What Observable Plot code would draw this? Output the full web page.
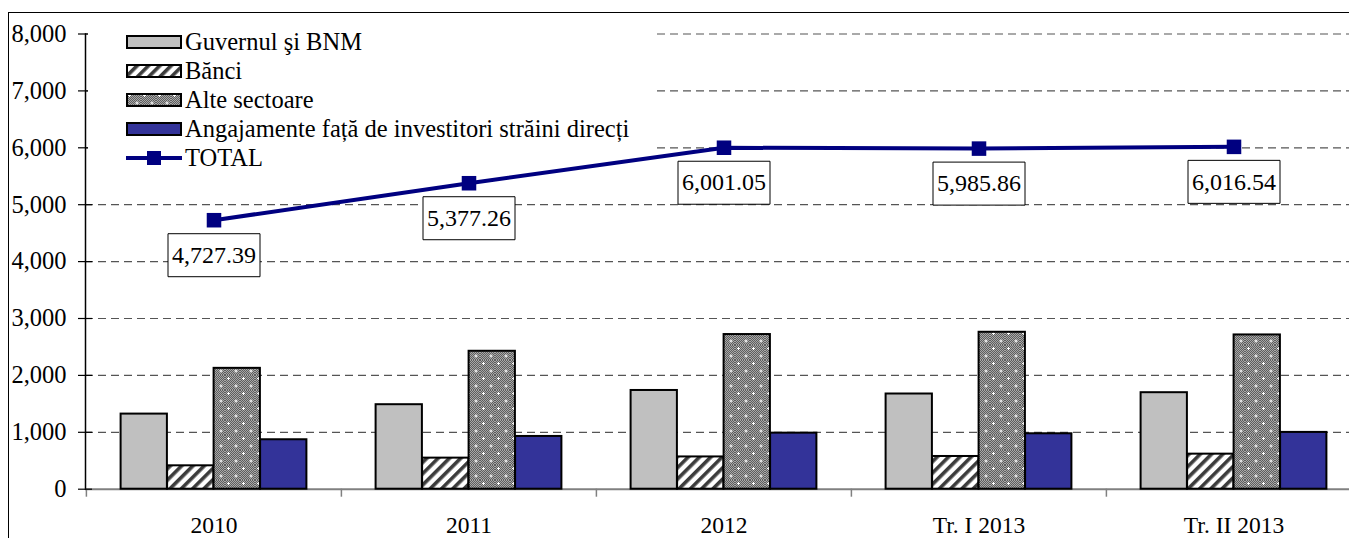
<!DOCTYPE html>
<html>
<head>
<meta charset="utf-8">
<script src="https://cdn.jsdelivr.net/npm/d3@7"></script>
<script src="https://cdn.jsdelivr.net/npm/@observablehq/plot@0.6"></script>
<style>
  html, body { margin: 0; padding: 0; background: #fff; overflow: hidden; }
  #wrap { position: relative; width: 1349px; height: 538px; overflow: hidden; font-family: "Liberation Serif", "Times New Roman", serif; }
  #frame { position: absolute; left: 8px; top: 12px; width: 1500px; height: 700px; border-left: 1.5px solid #000; border-top: 1.5px solid #000; box-sizing: border-box; }
  #chart { position: absolute; left: 0; top: 0; }
  #legend { position: absolute; left: 88px; top: 22px; width: 565px; height: 131px; background: #fff; }
  .row { position: absolute; left: 0; height: 28px; display: flex; align-items: center; white-space: nowrap; font-family: "Liberation Serif", serif; font-size: 24.5px; color: #000; }
  .row svg { margin-left: 38px; margin-right: 3px; overflow: visible; }
</style>
</head>
<body>
<svg width="0" height="0" style="position:absolute">
  <defs>
    <pattern id="hatch" patternUnits="userSpaceOnUse" width="8" height="8" patternTransform="rotate(45)">
      <rect width="8" height="8" fill="#fff"></rect>
      <rect x="0" y="0" width="3.6" height="8" fill="#3c3c3c"></rect>
    </pattern>
    <pattern id="checker" patternUnits="userSpaceOnUse" width="2" height="2">
      <rect width="2" height="2" fill="#a8a8a8"></rect>
      <rect x="0" y="0" width="1" height="1" fill="#5e5e5e"></rect>
      <rect x="1" y="1" width="1" height="1" fill="#5e5e5e"></rect>
    </pattern>
    <pattern id="dots" patternUnits="userSpaceOnUse" width="15" height="15">
      <rect width="15" height="15" fill="url(#checker)"></rect>
      <rect x="2" y="3" width="3" height="1" fill="#fff"></rect>
      <rect x="3" y="2" width="1" height="3" fill="#fff"></rect>
      <rect x="9.5" y="10.5" width="3" height="1" fill="#fff"></rect>
      <rect x="10.5" y="9.5" width="1" height="3" fill="#fff"></rect>
    </pattern>
  </defs>
</svg>
<div id="wrap">
  <div id="frame"></div>
  <div id="chart"></div>
  <div id="legend"></div>
</div>
<script>
// ---- data ----
const categories = ["2010", "2011", "2012", "Tr. I 2013", "Tr. II 2013"];
const guvernul = [1320, 1485, 1735, 1673, 1696];
const banci = [411, 546, 567, 575, 616];
const alteSectoare = [2124, 2424, 2718, 2758, 2711];
const angajamente = [869, 927, 985, 974, 998];
const total = [4727.39, 5377.26, 6001.05, 5985.86, 6016.54];
const seriesNames = ["Guvernul şi BNM", "Bănci", "Alte sectoare", "Angajamente față de investitori străini direcți", "TOTAL"];
const yTicks = [0, 1000, 2000, 3000, 4000, 5000, 6000, 7000, 8000];

// ---- styles ----
const fills = ["#c0c0c0", "url(#hatch)", "url(#dots)", "#333399"];
const lineColor = "#000080";
const seriesValues = [guvernul, banci, alteSectoare, angajamente];

const W = 1362, H = 538, mL = 85, mR = 1, mT = 33.5, mB = 49.3;
const step = (W - mL - mR) / categories.length;
const barW = 46.5;
const groupOffset = (step - barW * seriesValues.length) / 2;

const idx = d3.range(categories.length);

const barMarks = seriesValues.map((vals, i) =>
  Plot.barY(idx, {
    x: (j) => categories[j],
    y: (j) => vals[j],
    fill: fills[i],
    stroke: "#000",
    strokeWidth: 2,
    insetLeft: groupOffset + i * barW,
    insetRight: step - groupOffset - (i + 1) * barW
  })
);

const boxSymbol = { draw(ctx) { ctx.rect(-46, -21.5, 92, 43); } };

const chart = Plot.plot({
  width: W, height: H,
  marginLeft: mL, marginRight: mR, marginTop: mT, marginBottom: mB,
  style: { fontFamily: "Liberation Serif", fontSize: "23px", background: "transparent", maxWidth: "none", color: "#000" },
  x: { type: "band", domain: categories, padding: 0, label: null, axis: null },
  y: { domain: [0, 8000], label: null, axis: null },
  marks: [
    Plot.gridY(yTicks.filter(d => d > 0), { stroke: "#555", strokeOpacity: 1, strokeWidth: 1.2, strokeDasharray: "8,5" }),
    Plot.ruleY([0], { stroke: "#808080", strokeWidth: 2 }),
    ...barMarks,
    Plot.frame({ anchor: "left", stroke: "#000", strokeWidth: 1.5 }),
    Plot.axisX({ tickSize: 8, dx: -step / 2, tickFormat: () => "", stroke: "#808080", strokeWidth: 1.5, label: null }),
    Plot.axisX({ tickSize: 0, tickPadding: 27, fontSize: 23.5, fill: "#000", label: null }),
    Plot.axisY(yTicks, { tickSize: 14, dx: 7, tickFormat: () => "", stroke: "#000", strokeWidth: 1.2, label: null }),
    Plot.axisY(yTicks, { tickSize: 0, tickPadding: 19, tickFormat: d3.format(","), fontSize: 24.5, fill: "#000", label: null }),
    Plot.line(idx, { x: (j) => categories[j], y: (j) => total[j], stroke: lineColor, strokeWidth: 4 }),
    Plot.dot(idx, { x: (j) => categories[j], y: (j) => total[j], symbol: "square", r: 8.2, fill: lineColor }),
    Plot.dot(idx, { x: (j) => categories[j], y: (j) => total[j], symbol: boxSymbol, dy: 35, fill: "#fff", stroke: "#000", strokeWidth: 1 }),
    Plot.text(idx, { x: (j) => categories[j], y: (j) => total[j], text: (j) => d3.format(",.2f")(total[j]), dy: 35, fontSize: 24, fill: "#000" })
  ]
});
document.getElementById("chart").appendChild(chart);

// ---- legend (inside plot area, white background) ----
const legend = d3.select("#legend");
const legendTop = 22;
const rowCenters = [41.5, 70.5, 99.5, 128.5, 157.5];
seriesNames.forEach((name, i) => {
  const row = legend.append("div").attr("class", "row").style("top", (rowCenters[i] - legendTop - 14) + "px");
  const s = row.append("svg").attr("width", 56).attr("height", 16);
  if (i < 4) {
    s.append("rect").attr("x", 1).attr("y", 2).attr("width", 54).attr("height", 12)
      .attr("fill", fills[i]).attr("stroke", "#000").attr("stroke-width", 2);
  } else {
    s.append("line").attr("x1", 0).attr("x2", 56).attr("y1", 8).attr("y2", 8)
      .attr("stroke", lineColor).attr("stroke-width", 4);
    s.append("rect").attr("x", 21).attr("y", 1).attr("width", 14).attr("height", 14).attr("fill", lineColor);
  }
  row.append("span").text(name);
});
</script>
</body>
</html>
